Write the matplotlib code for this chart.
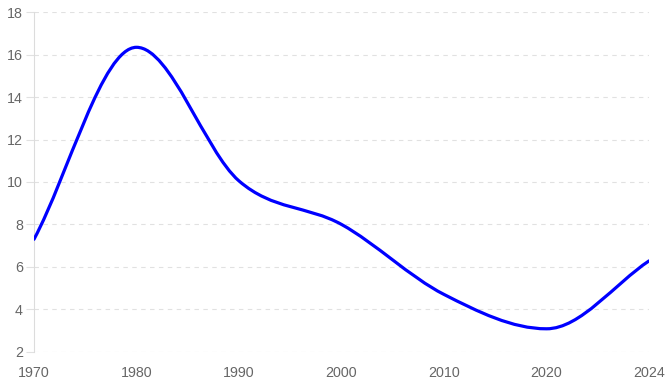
import numpy as np
import matplotlib
matplotlib.use("Agg")
import matplotlib.pyplot as plt
from matplotlib.path import Path
from matplotlib.patches import PathPatch

# data
years = ["1970", "1980", "1990", "2000", "2010", "2020", "2024"]
values = [7.3, 16.35, 10.05, 8.0, 4.7, 3.08, 6.28]
y_ticks = [2, 4, 6, 8, 10, 12, 14, 16, 18]

plt.rcParams["font.family"] = ["Liberation Sans", "DejaVu Sans"]

fig = plt.figure(figsize=(6.7, 3.87), dpi=100)
ax = fig.add_axes([34 / 670, 1 - 351.7 / 387, (649 - 34) / 670, (351.7 - 12.3) / 387])

xs = np.arange(len(years), dtype=float)
ys = np.array(values, dtype=float)
ax.set_xlim(0, len(years) - 1)
ax.set_ylim(2, 18)

# monotone cubic interpolation (same idea as chart.js 'monotone')
n = len(xs)
delta = np.diff(ys) / np.diff(xs)
m = np.zeros(n)
m[0] = delta[0]
m[-1] = delta[-1]
for i in range(1, n - 1):
    if delta[i - 1] * delta[i] <= 0:
        m[i] = 0
    else:
        m[i] = (delta[i - 1] + delta[i]) / 2
for i in range(n - 1):
    if delta[i] == 0:
        m[i] = m[i + 1] = 0
        continue
    a = m[i] / delta[i]
    b = m[i + 1] / delta[i]
    sq = a * a + b * b
    if sq <= 9:
        continue
    tau = 3 / np.sqrt(sq)
    m[i] = a * tau * delta[i]
    m[i + 1] = b * tau * delta[i]

verts = [(xs[0], ys[0])]
codes = [Path.MOVETO]
for i in range(n - 1):
    dx = (xs[i + 1] - xs[i]) / 3
    verts += [(xs[i] + dx, ys[i] + dx * m[i]),
              (xs[i + 1] - dx, ys[i + 1] - dx * m[i + 1]),
              (xs[i + 1], ys[i + 1])]
    codes += [Path.CURVE4] * 3
ax.add_patch(PathPatch(Path(verts, codes), facecolor="none", edgecolor="#0000ff",
                       lw=2.3, capstyle="round", joinstyle="round", zorder=3))

# axes styling
ax.set_xticks(xs)
ax.set_xticklabels(years)
ax.set_yticks(y_ticks)
ax.grid(axis="y", color="#e1e1e1", linestyle=(0, (4, 4)), linewidth=0.8)
ax.set_axisbelow(True)
for side in ["top", "right", "bottom"]:
    ax.spines[side].set_visible(False)
ax.spines["left"].set_color("#dcdcdc")
ax.spines["left"].set_linewidth(0.8)
ax.tick_params(axis="y", length=6, color="#e1e1e1", labelcolor="#666666", labelsize=10.3, pad=2)
ax.tick_params(axis="x", length=0, labelcolor="#666666", labelsize=10.3, pad=10)

fig.savefig("out.png", dpi=100)
